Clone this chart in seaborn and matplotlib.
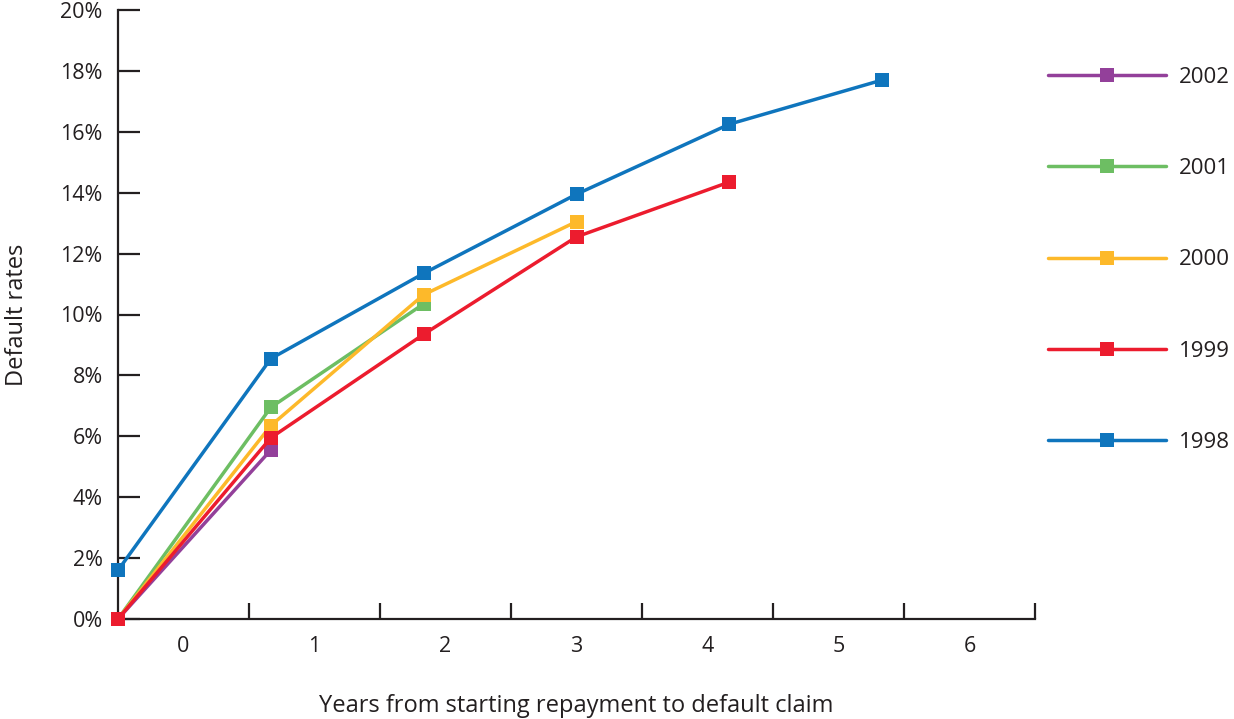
import numpy as np
import pandas as pd
import matplotlib
matplotlib.use("Agg")
import matplotlib.pyplot as plt
from matplotlib.lines import Line2D
import seaborn as sns

# Default rates (%) by years from starting repayment, one series per cohort
cohorts = ["2002", "2001", "2000", "1999", "1998"]
rates_2002 = [0.0, 5.55]
rates_2001 = [0.0, 6.95, 10.35]
rates_2000 = [0.0, 6.35, 10.65, 13.05]
rates_1999 = [0.0, 5.95, 9.35, 12.55, 14.35]
rates_1998 = [1.6, 8.55, 11.35, 13.95, 16.25, 17.7]
year_labels = ["0", "1", "2", "3", "4", "5", "6"]
y_ticks = [0, 2, 4, 6, 8, 10, 12, 14, 16, 18, 20]

colors = {
    "2002": "#93409a",
    "2001": "#6dbe63",
    "2000": "#fdb92a",
    "1999": "#ec1c2e",
    "1998": "#0f75bd",
}

series = {"2002": rates_2002, "2001": rates_2001, "2000": rates_2000,
          "1999": rates_1999, "1998": rates_1998}
rows = []
for c in cohorts:
    for i, v in enumerate(series[c]):
        rows.append({"cohort": c, "step": i, "rate": v})
df = pd.DataFrame(rows)

sns.set_theme(style="white")
plt.rcParams["font.family"] = ["Open Sans", "DejaVu Sans"]
ink = "#231f20"

fig = plt.figure(figsize=(12.34, 7.19), dpi=100)
ax = fig.add_axes([118 / 1234, 1 - 619 / 719, (1035 - 118) / 1234, (619 - 10) / 719])

sns.lineplot(data=df, x="step", y="rate", hue="cohort", hue_order=cohorts,
             palette=colors, marker="s", markersize=10, markeredgewidth=0,
             linewidth=2.5, legend=False, ax=ax, clip_on=False, zorder=3)

ax.set_xlim(0, 6)
ax.set_ylim(0, 20)

# Year categories: seven equal bins spanning the axis, ticks at bin edges
n = len(year_labels)
edges = [(j + 1) * 6 / n for j in range(n)]
centers = [(j + 0.5) * 6 / n for j in range(n)]
ax.set_xticks(edges)
ax.set_xticklabels([""] * n)
ax.set_xticks(centers, minor=True)
ax.set_xticklabels(year_labels, minor=True)
ax.tick_params(axis="x", which="major", direction="in", length=11.5, width=1.6,
               color=ink, bottom=True)
ax.tick_params(axis="x", which="minor", length=0, pad=12, labelsize=15.5,
               labelcolor=ink)

ax.set_yticks(y_ticks)
ax.set_yticklabels([f"{t}%" for t in y_ticks])
ax.tick_params(axis="y", direction="in", length=16, width=1.6, color=ink,
               left=True, pad=11, labelsize=15.5, labelcolor=ink)

for s in ["top", "right"]:
    ax.spines[s].set_visible(False)
for s in ["left", "bottom"]:
    ax.spines[s].set_color(ink)
    ax.spines[s].set_linewidth(1.6)

ax.set_xlabel("Years from starting repayment to default claim", fontsize=17,
              color=ink, labelpad=0)
ax.xaxis.set_label_coords(0.5, -(694 - 619) / 609, transform=ax.transAxes)
ax.set_ylabel("Default rates", fontsize=17, color=ink)
ax.yaxis.set_label_coords(-(118 - 29) / 917, (619 - 315) / 609)

handles = [Line2D([0], [0], color=colors[c], lw=2.5, marker="s", markersize=10,
                  markeredgewidth=0) for c in cohorts]
fig.legend(handles, cohorts, loc="upper left",
           bbox_to_anchor=(1028 / 1234, 1 - 47 / 719), frameon=False,
           fontsize=16, handlelength=5.3, handletextpad=0.6,
           labelspacing=3.16, labelcolor=ink)

fig.savefig("out.png", dpi=100)
